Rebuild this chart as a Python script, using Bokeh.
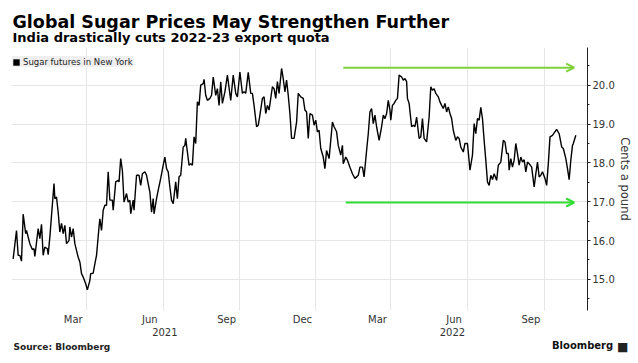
import pandas as pd
from bokeh.plotting import figure
from bokeh.layouts import column
from bokeh.models import (Range1d, FixedTicker, SingleIntervalTicker, DatetimeAxis, Label,
                          Arrow, OpenHead, Legend, LegendItem, PrintfTickFormatter)
from bokeh.embed import file_html
from bokeh.resources import INLINE

# ---------------- data ----------------
dates = [
    "2020-12-03", "2020-12-07", "2020-12-09", "2020-12-11", "2020-12-13", "2020-12-15", "2020-12-18",
    "2020-12-19", "2020-12-23", "2020-12-26", "2020-12-28", "2020-12-29", "2021-01-02", "2021-01-04",
    "2021-01-06", "2021-01-08", "2021-01-10", "2021-01-13", "2021-01-14", "2021-01-16", "2021-01-21",
    "2021-01-22", "2021-01-24", "2021-01-26", "2021-01-28", "2021-01-30", "2021-02-01", "2021-02-03",
    "2021-02-05", "2021-02-08", "2021-02-09", "2021-02-11", "2021-02-13", "2021-02-15", "2021-02-19",
    "2021-02-21", "2021-02-23", "2021-02-25", "2021-02-28", "2021-03-02", "2021-03-05", "2021-03-06",
    "2021-03-09", "2021-03-11", "2021-03-13", "2021-03-16", "2021-03-17", "2021-03-19", "2021-03-21",
    "2021-03-23", "2021-03-25", "2021-03-27", "2021-03-29", "2021-04-01", "2021-04-02", "2021-04-05",
    "2021-04-08", "2021-04-09", "2021-04-11", "2021-04-13", "2021-04-15", "2021-04-18", "2021-04-20",
    "2021-04-22", "2021-04-23", "2021-04-26", "2021-04-27", "2021-04-30", "2021-05-03", "2021-05-05",
    "2021-05-07", "2021-05-10", "2021-05-12", "2021-05-16", "2021-05-18", "2021-05-20", "2021-05-21",
    "2021-05-24", "2021-05-26", "2021-05-29", "2021-06-01", "2021-06-03", "2021-06-05", "2021-06-07",
    "2021-06-09", "2021-06-11", "2021-06-13", "2021-06-16", "2021-06-18", "2021-06-20", "2021-06-22",
    "2021-06-25", "2021-06-27", "2021-06-28", "2021-06-30", "2021-07-02", "2021-07-04", "2021-07-06",
    "2021-07-08", "2021-07-10", "2021-07-12", "2021-07-14", "2021-07-16", "2021-07-19", "2021-07-20",
    "2021-07-22", "2021-07-24", "2021-07-27", "2021-07-29", "2021-07-31", "2021-08-03", "2021-08-05",
    "2021-08-07", "2021-08-09", "2021-08-11", "2021-08-14", "2021-08-17", "2021-08-21", "2021-08-24",
    "2021-08-27", "2021-08-29", "2021-09-01", "2021-09-04", "2021-09-06", "2021-09-08", "2021-09-11",
    "2021-09-14", "2021-09-16", "2021-09-18", "2021-09-21", "2021-09-23", "2021-09-25", "2021-09-28",
    "2021-09-30", "2021-10-02", "2021-10-04", "2021-10-06", "2021-10-08", "2021-10-10", "2021-10-12",
    "2021-10-14", "2021-10-16", "2021-10-18", "2021-10-21", "2021-10-23", "2021-10-25", "2021-10-27",
    "2021-10-29", "2021-10-31", "2021-11-02", "2021-11-05", "2021-11-08", "2021-11-10", "2021-11-13",
    "2021-11-16", "2021-11-18", "2021-11-20", "2021-11-22", "2021-11-24", "2021-11-27", "2021-11-29",
    "2021-12-01", "2021-12-03", "2021-12-05", "2021-12-07", "2021-12-10", "2021-12-12", "2021-12-14",
    "2021-12-17", "2021-12-21", "2021-12-23", "2021-12-26", "2021-12-28", "2021-12-31", "2022-01-02",
    "2022-01-03", "2022-01-06", "2022-01-08", "2022-01-11", "2022-01-14", "2022-01-17", "2022-01-19",
    "2022-01-21", "2022-01-23", "2022-01-26", "2022-01-28", "2022-01-31", "2022-02-02", "2022-02-04",
    "2022-02-06", "2022-02-08", "2022-02-10", "2022-02-12", "2022-02-15", "2022-02-18", "2022-02-20",
    "2022-02-22", "2022-02-24", "2022-02-26", "2022-02-28", "2022-03-01", "2022-03-03", "2022-03-05",
    "2022-03-07", "2022-03-09", "2022-03-11", "2022-03-14", "2022-03-16", "2022-03-18", "2022-03-20",
    "2022-03-21", "2022-03-23", "2022-03-26", "2022-03-28", "2022-03-30", "2022-04-01", "2022-04-04",
    "2022-04-06", "2022-04-08", "2022-04-10", "2022-04-13", "2022-04-16", "2022-04-18", "2022-04-20",
    "2022-04-22", "2022-04-24", "2022-04-27", "2022-04-29", "2022-05-01", "2022-05-03", "2022-05-05",
    "2022-05-07", "2022-05-09", "2022-05-11", "2022-05-13", "2022-05-15", "2022-05-16", "2022-05-18",
    "2022-05-20", "2022-05-22", "2022-05-24", "2022-05-27", "2022-05-29", "2022-06-01", "2022-06-04",
    "2022-06-07", "2022-06-09", "2022-06-11", "2022-06-13", "2022-06-15", "2022-06-17", "2022-06-19",
    "2022-06-21", "2022-06-23", "2022-06-25", "2022-06-27", "2022-06-29", "2022-07-01", "2022-07-03",
    "2022-07-06", "2022-07-08", "2022-07-11", "2022-07-14", "2022-07-16", "2022-07-18", "2022-07-20",
    "2022-07-21", "2022-07-23", "2022-07-25", "2022-07-27", "2022-07-29", "2022-07-31", "2022-08-02",
    "2022-08-04", "2022-08-06", "2022-08-08", "2022-08-10", "2022-08-12", "2022-08-14", "2022-08-17",
    "2022-08-20", "2022-08-22", "2022-08-24", "2022-08-26", "2022-08-28", "2022-08-30", "2022-09-02",
    "2022-09-04", "2022-09-06", "2022-09-08", "2022-09-11", "2022-09-13", "2022-09-16", "2022-09-19",
    "2022-09-22", "2022-09-24", "2022-09-27", "2022-09-29", "2022-10-01", "2022-10-03", "2022-10-05",
    "2022-10-06", "2022-10-09",
]

prices = [
    15.53, 16.26, 15.62, 15.62, 15.47, 16.68, 16.18,
    16.26, 15.92, 15.77, 15.79, 15.59, 16.31, 16.05,
    16.42, 15.62, 15.83, 15.79, 15.64, 16.09, 17.47,
    17.08, 17.12, 16.73, 16.22, 16.44, 16.18, 16.39,
    15.92, 16.00, 16.35, 16.09, 16.31, 15.92, 15.57,
    15.45, 15.15, 15.06, 14.89, 14.73, 14.97, 15.15,
    15.16, 15.40, 15.62, 16.35, 16.56, 16.26, 16.78,
    16.91, 16.91, 17.77, 17.04, 17.04, 16.78, 17.51,
    17.55, 17.51, 18.11, 17.81, 16.99, 17.21, 16.99,
    17.04, 16.69, 17.04, 16.78, 17.68, 17.68, 17.42,
    17.72, 17.77, 17.68, 17.25, 16.73, 17.08, 16.69,
    17.08, 17.30, 17.60, 17.94, 18.15, 17.85, 17.77,
    17.38, 17.04, 16.95, 17.51, 17.08, 17.64, 17.68,
    18.41, 18.45, 18.63, 18.28, 17.94, 17.98, 17.94,
    18.67, 18.50, 19.57, 19.48, 20.00, 20.04, 20.15,
    19.74, 19.61, 19.66, 19.74, 20.21, 19.74, 19.91,
    19.48, 20.09, 19.53, 19.83, 20.26, 19.61, 20.26,
    19.79, 19.70, 20.34, 19.79, 19.83, 19.79, 20.33,
    19.79, 19.79, 19.48, 18.93, 18.97, 19.23, 19.66,
    19.70, 19.27, 19.48, 19.36, 19.66, 19.96, 19.91,
    19.66, 20.09, 19.79, 20.43, 20.17, 19.83, 20.13,
    19.74, 19.27, 18.63, 18.63, 19.05, 19.79, 19.70,
    19.66, 19.36, 19.31, 18.63, 19.27, 19.23, 18.97,
    19.10, 18.80, 18.84, 18.37, 18.15, 17.85, 18.32,
    18.11, 19.05, 18.93, 18.80, 18.45, 18.20, 18.45,
    17.98, 18.15, 18.07, 17.89, 17.72, 17.60, 17.64,
    17.68, 17.89, 17.89, 17.64, 18.32, 18.75, 19.31,
    19.40, 19.01, 19.23, 18.93, 18.58, 18.93, 19.23,
    19.14, 19.27, 19.61, 19.36, 19.10, 19.48, 19.53,
    19.61, 19.66, 20.26, 20.21, 20.13, 20.17, 20.09,
    19.66, 19.53, 18.93, 18.97, 18.93, 19.18, 18.63,
    18.67, 19.14, 18.63, 18.54, 19.18, 19.96, 19.87,
    19.91, 19.79, 19.70, 19.57, 19.48, 19.40, 19.53,
    19.31, 19.44, 19.27, 19.14, 18.84, 18.75, 18.58,
    18.67, 18.63, 18.41, 18.28, 18.50, 18.50, 17.81,
    18.20, 19.01, 18.75, 19.14, 19.10, 19.43, 19.14,
    18.58, 18.07, 17.51, 17.42, 17.68, 17.57, 17.72,
    17.55, 17.94, 18.02, 18.58, 18.54, 18.24, 18.24,
    17.81, 18.11, 17.89, 18.07, 18.50, 18.24, 17.94,
    18.15, 18.02, 18.08, 17.77, 18.02, 17.98, 17.89,
    17.38, 17.72, 18.02, 17.64, 17.68, 17.77, 17.60,
    17.42, 17.98, 18.67, 18.71, 18.77, 18.86, 18.75,
    18.41, 18.37, 18.11, 17.85, 17.57, 18.07, 18.45,
    18.50, 18.71,
]

series_name = "Sugar futures in New York"
title_text = "Global Sugar Prices May Strengthen Further"
subtitle_text = "India drastically cuts 2022-23 export quota"
source_text = "Source: Bloomberg"
brand_text = "Bloomberg"
y_axis_title = "Cents a pound"

month_label_dates = ["2021-02-13", "2021-05-16", "2021-08-16", "2021-11-15",
                     "2022-02-13", "2022-05-16", "2022-08-16"]
month_labels = ["Mar", "Jun", "Sep", "Dec", "Mar", "Jun", "Sep"]
year_label_dates = ["2021-06-03", "2022-05-14"]
year_labels = ["2021", "2022"]
grid_dates = ["2020-12-01", "2021-03-01", "2021-06-01", "2021-09-01", "2021-12-01",
              "2022-03-01", "2022-06-01", "2022-09-01"]

# green range arrows: (start date, end date, level)
arrow_top = ("2022-01-03", "2022-10-07", 20.45)
arrow_bottom = ("2022-01-06", "2022-10-07", 16.98)

x_start, x_end = "2020-12-01", "2022-10-23"
y_min, y_max = 14.2, 20.97


def ms(d):
    return int(pd.Timestamp(d).value // 10**6)


FONT = "DejaVu Sans"
W = 638
HEAD_H, MAIN_H, FOOT_H = 47, 291, 25


def text_strip(height):
    f = figure(width=W, height=height, x_range=Range1d(0, W), y_range=Range1d(0, height),
               x_axis_location=None, y_axis_location=None, output_backend="svg",
               toolbar_location=None, min_border=0, frame_align=False)
    f.grid.visible = False
    f.outline_line_color = None
    return f


def text_label(x, y, text, size, bold=True, font=FONT, align="left", color="#000000"):
    return Label(x=x, y=y, text=text, text_font=font, text_font_size=size,
                 text_font_style="bold" if bold else "normal", text_align=align,
                 text_baseline="alphabetic", text_color=color)


# ---------------- header (y measured upward from the strip bottom) ----------------
head = text_strip(HEAD_H)
head.add_layout(text_label(12, 25.5, title_text, "17.5px"))
head.add_layout(text_label(12, 10.5, subtitle_text, "13px"))

# ---------------- main chart ----------------
p = figure(width=W, height=MAIN_H, x_axis_type="datetime", y_axis_location="right",
           x_range=Range1d(ms(x_start), ms(x_end)), y_range=Range1d(y_min, y_max),
           output_backend="svg", toolbar_location=None, frame_align=False,
           min_border_left=11, min_border_right=51, min_border_top=0, min_border_bottom=28)
p.outline_line_color = None

p.xgrid.ticker = FixedTicker(ticks=[ms(d) for d in grid_dates])
p.xgrid.grid_line_color = "#e6e6e6"
yt = SingleIntervalTicker(interval=1, num_minor_ticks=2)
p.ygrid.ticker = yt
p.ygrid.grid_line_color = "#e6e6e6"


def style_x(ax, standoff):
    ax.axis_line_color = None
    ax.major_tick_line_color = None
    ax.minor_tick_line_color = None
    ax.major_tick_out = 0
    ax.major_tick_in = 0
    ax.major_label_standoff = standoff
    ax.major_label_text_font = FONT
    ax.major_label_text_font_size = "10px"
    ax.major_label_text_color = "#333333"


xa = p.xaxis[0]
xa.ticker = FixedTicker(ticks=[ms(d) for d in month_label_dates])
xa.major_label_overrides = {ms(d): lab for d, lab in zip(month_label_dates, month_labels)}
style_x(xa, 3)

xa2 = DatetimeAxis(ticker=FixedTicker(ticks=[ms(d) for d in year_label_dates]))
xa2.major_label_overrides = {ms(d): lab for d, lab in zip(year_label_dates, year_labels)}
style_x(xa2, 0)
p.add_layout(xa2, "below")

ya = p.yaxis[0]
ya.ticker = yt
ya.formatter = PrintfTickFormatter(format="%.1f")
ya.axis_line_color = "#222222"
ya.major_tick_line_color = "#222222"
ya.minor_tick_line_color = "#222222"
ya.major_tick_out = 3
ya.major_tick_in = 0
ya.minor_tick_out = 2
ya.minor_tick_in = 0
ya.major_label_standoff = 2
ya.major_label_text_font = FONT
ya.major_label_text_font_size = "10px"
ya.major_label_text_color = "#333333"
ya.axis_label = y_axis_title
ya.axis_label_text_font = FONT
ya.axis_label_text_font_style = "normal"
ya.axis_label_text_font_size = "11.5px"
ya.axis_label_text_color = "#333333"
ya.axis_label_standoff = 0

# price line
p.line(x=pd.to_datetime(dates), y=prices, line_color="black", line_width=1.4)

# legend swatch: a zero-size square on the first point, only its legend entry shows
swatch = p.rect(x=pd.to_datetime(dates[:1]), y=prices[:1], width=0, height=0,
                fill_color="black", line_color=None)
legend = Legend(items=[LegendItem(label=series_name, renderers=[swatch])],
                location=(1, 243), margin=0, padding=3, spacing=0,
                glyph_width=8, glyph_height=8, label_standoff=3, label_height=11,
                label_text_font=FONT, label_text_font_size="8.5px", label_text_color="#222222",
                background_fill_color="#efefef", background_fill_alpha=1.0,
                border_line_color=None)
p.add_layout(legend)

for (d0, d1, lvl), col in ((arrow_top, "#7fd13b"), (arrow_bottom, "#33dd33")):
    p.add_layout(Arrow(end=OpenHead(size=8, line_color=col, line_width=2),
                       x_start=ms(d0), y_start=lvl, x_end=ms(d1), y_end=lvl,
                       line_color=col, line_width=2))

# ---------------- footer (y measured upward from the strip bottom) ----------------
foot = text_strip(FOOT_H)
foot.add_layout(text_label(13, 17.0, source_text, "9px", color="#222222"))
foot.add_layout(text_label(612.7, 18.5, brand_text, "10px", align="right", color="#111111"))
foot.add_layout(text_label(616.5, 17.0, "■", "12px", bold=False, color="#222222"))

layout = column(head, p, foot, spacing=0)
open("out.html", "w").write(file_html(layout, INLINE))
